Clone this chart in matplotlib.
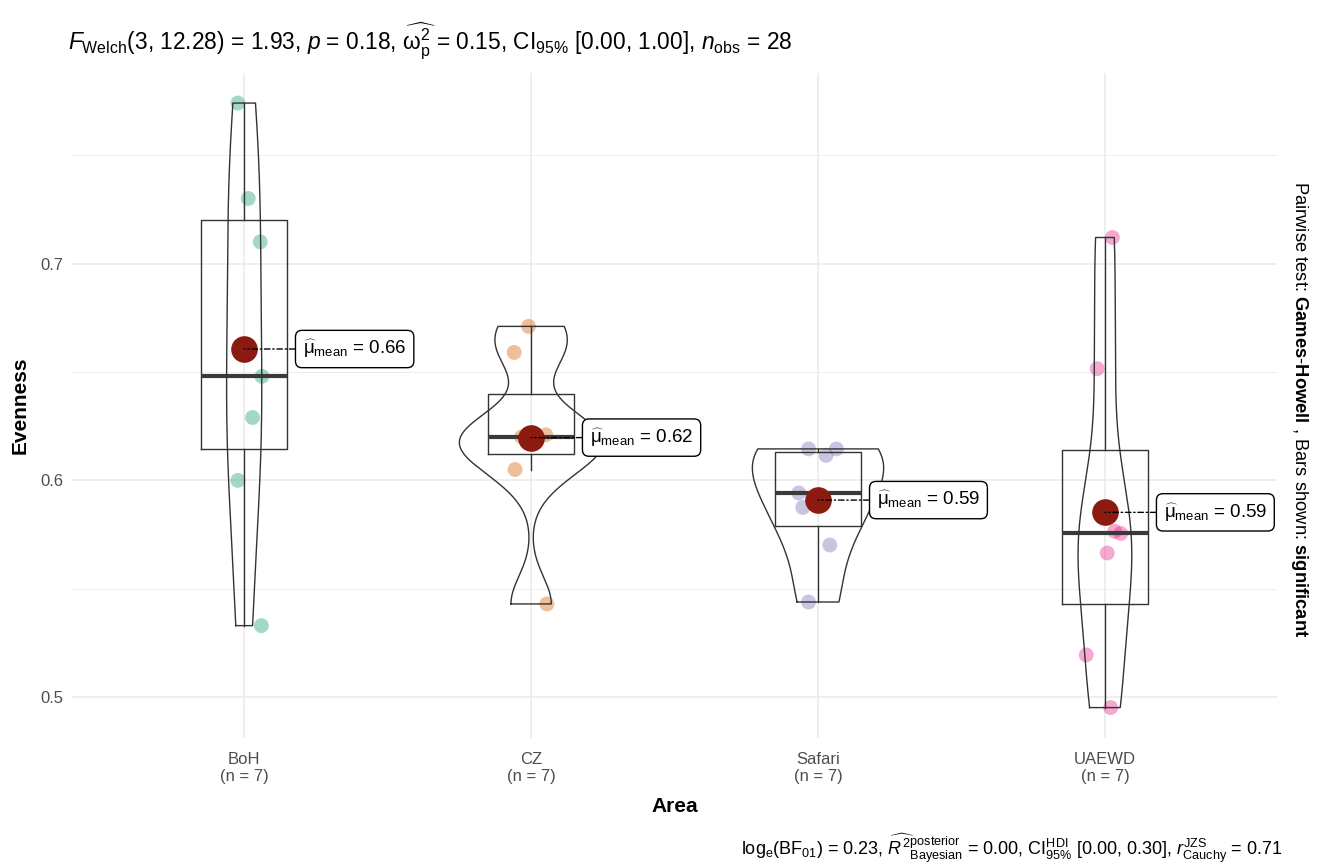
import numpy as np
import matplotlib.pyplot as plt

plt.rcParams['font.family'] = ['Liberation Sans', 'DejaVu Sans']
plt.rcParams['mathtext.fontset'] = 'custom'
plt.rcParams['mathtext.rm'] = 'Liberation Sans'
plt.rcParams['mathtext.it'] = 'Liberation Sans:italic'
plt.rcParams['mathtext.bf'] = 'Liberation Sans:bold'

# values
areas = ["BoH", "CZ", "Safari", "UAEWD"]
boh = [0.774, 0.730, 0.710, 0.648, 0.629, 0.600, 0.533]
cz = [0.671, 0.659, 0.621, 0.620, 0.619, 0.605, 0.543]
safari = [0.6145, 0.6145, 0.6115, 0.5942, 0.5875, 0.5702, 0.5439]
uaewd = [0.712, 0.6515, 0.5765, 0.5755, 0.5665, 0.5195, 0.4952]
groups = [boh, cz, safari, uaewd]

# horizontal jitter of the points (category units)
jitter = [
    [-0.022, 0.014, 0.056, 0.062, 0.029, -0.022, 0.060],
    [-0.009, -0.059, 0.051, -0.033, 0.0, -0.056, 0.055],
    [-0.033, 0.064, 0.028, -0.067, -0.053, 0.041, -0.033],
    [0.026, -0.027, 0.034, 0.055, 0.008, -0.065, 0.020],
]
colors = ["#1B9E77", "#D95F02", "#7570B3", "#E7298A"]


def bw_nrd0(x):
    x = np.asarray(x)
    hi = np.std(x, ddof=1)
    iqr = np.percentile(x, 75) - np.percentile(x, 25)
    lo = min(hi, iqr / 1.34)
    return 0.9 * lo * len(x) ** -0.2


def kde(x, grid):
    x = np.asarray(x)
    bw = bw_nrd0(x)
    z = (grid[:, None] - x[None, :]) / bw
    return np.exp(-0.5 * z ** 2).sum(axis=1) / (len(x) * bw * np.sqrt(2 * np.pi))


fig, ax = plt.subplots(figsize=(13.22, 8.67), dpi=100)
fig.subplots_adjust(left=0.0545, right=0.966, bottom=0.149, top=0.916)

pos = np.arange(1, len(areas) + 1)

# points
for i, vals in enumerate(groups):
    ax.scatter(pos[i] + np.array(jitter[i]), vals, s=115, color=colors[i],
               alpha=0.4, edgecolors='none', zorder=2)

# boxplots
ax.boxplot(groups, positions=pos, widths=0.3, showcaps=False, showfliers=False,
           patch_artist=False, manage_ticks=False,
           boxprops=dict(color='#333333', lw=1.0),
           whiskerprops=dict(color='#333333', lw=1.0),
           medianprops=dict(color='#3a3a3a', lw=3.0), zorder=3)

# violins (area scaled)
dens = []
for vals in groups:
    g = np.linspace(min(vals), max(vals), 512)
    dens.append((g, kde(vals, g)))
dmax = max(d.max() for _, d in dens)
for i, (g, d) in enumerate(dens):
    w = 0.25 * d / dmax
    xs = np.concatenate([pos[i] - w, (pos[i] + w)[::-1], [pos[i] - w[0]]])
    ys = np.concatenate([g, g[::-1], [g[0]]])
    ax.plot(xs, ys, color='#333333', lw=1.0, zorder=4)

# means and labels
for i, vals in enumerate(groups):
    m = np.mean(vals)
    ax.scatter(pos[i], m, s=330, color='#8B1A10', zorder=6)
    ax.annotate(r'$\widehat{\mathrm{\mu}}_{\mathrm{mean}}$ = %.2f' % m, xy=(pos[i], m),
                xytext=(pos[i] + 0.385, m), ha='center', va='center', fontsize=13.5,
                bbox=dict(boxstyle='round,pad=0.4,rounding_size=0.35', fc='white',
                          ec='black', lw=1.0),
                arrowprops=dict(arrowstyle='-', color='black', lw=1.0,
                                linestyle=(0, (4, 2, 1, 2)), shrinkA=0, shrinkB=0),
                zorder=7)

ax.set_xlim(0.4, 4.6)
ax.margins(y=0.05)
ax.set_yticks([0.5, 0.6, 0.7])
ax.set_yticks([0.55, 0.65, 0.75], minor=True)
ax.set_xticks(pos)
ax.set_xticklabels([f"{a}\n(n = {len(v)})" for a, v in zip(areas, groups)],
                   linespacing=1.15)
ax.tick_params(axis='both', which='both', length=0, labelsize=12, labelcolor='#4D4D4D')
ax.tick_params(axis='x', pad=10)
ax.tick_params(axis='y', pad=6)
ax.grid(which='major', color='#EBEBEB', lw=1.2)
ax.grid(which='minor', axis='y', color='#EBEBEB', lw=0.6)
ax.set_axisbelow(True)
for s in ax.spines.values():
    s.set_visible(False)

ax.set_xlabel("Area", fontsize=15, fontweight='bold', labelpad=10)
ax.set_ylabel("Evenness", fontsize=15, fontweight='bold', labelpad=8)

fig.text(0.0515, 0.953,
         r'$F_{\mathrm{Welch}}$(3, 12.28) = 1.93, $p$ = 0.18, '
         r'$\widehat{\mathrm{\omega}_{\mathrm{p}}^{2}}$ = 0.15, '
         r'CI$_{95\%}$ [0.00, 1.00], $n_{\mathrm{obs}}$ = 28',
         fontsize=16.4, ha='left', va='center')
fig.text(0.9705, 0.022,
         r'log$_{\mathrm{e}}$(BF$_{01}$) = 0.23, '
         r'$\widehat{R^{2}}_{\mathrm{Bayesian}}^{\mathrm{posterior}}$ = 0.00, '
         r'CI$_{95\%}^{\mathrm{HDI}}$ [0.00, 0.30], $r_{\mathrm{Cauchy}}^{\mathrm{JZS}}$ = 0.71',
         fontsize=13, ha='right', va='center')
fig.text(0.983, 0.528,
         r'Pairwise test: $\mathbf{Games}$-$\mathbf{Howell}$ , Bars shown: $\mathbf{significant}$',
         fontsize=13.2, rotation=-90, ha='center', va='center')

plt.savefig("out.png", dpi=100)
